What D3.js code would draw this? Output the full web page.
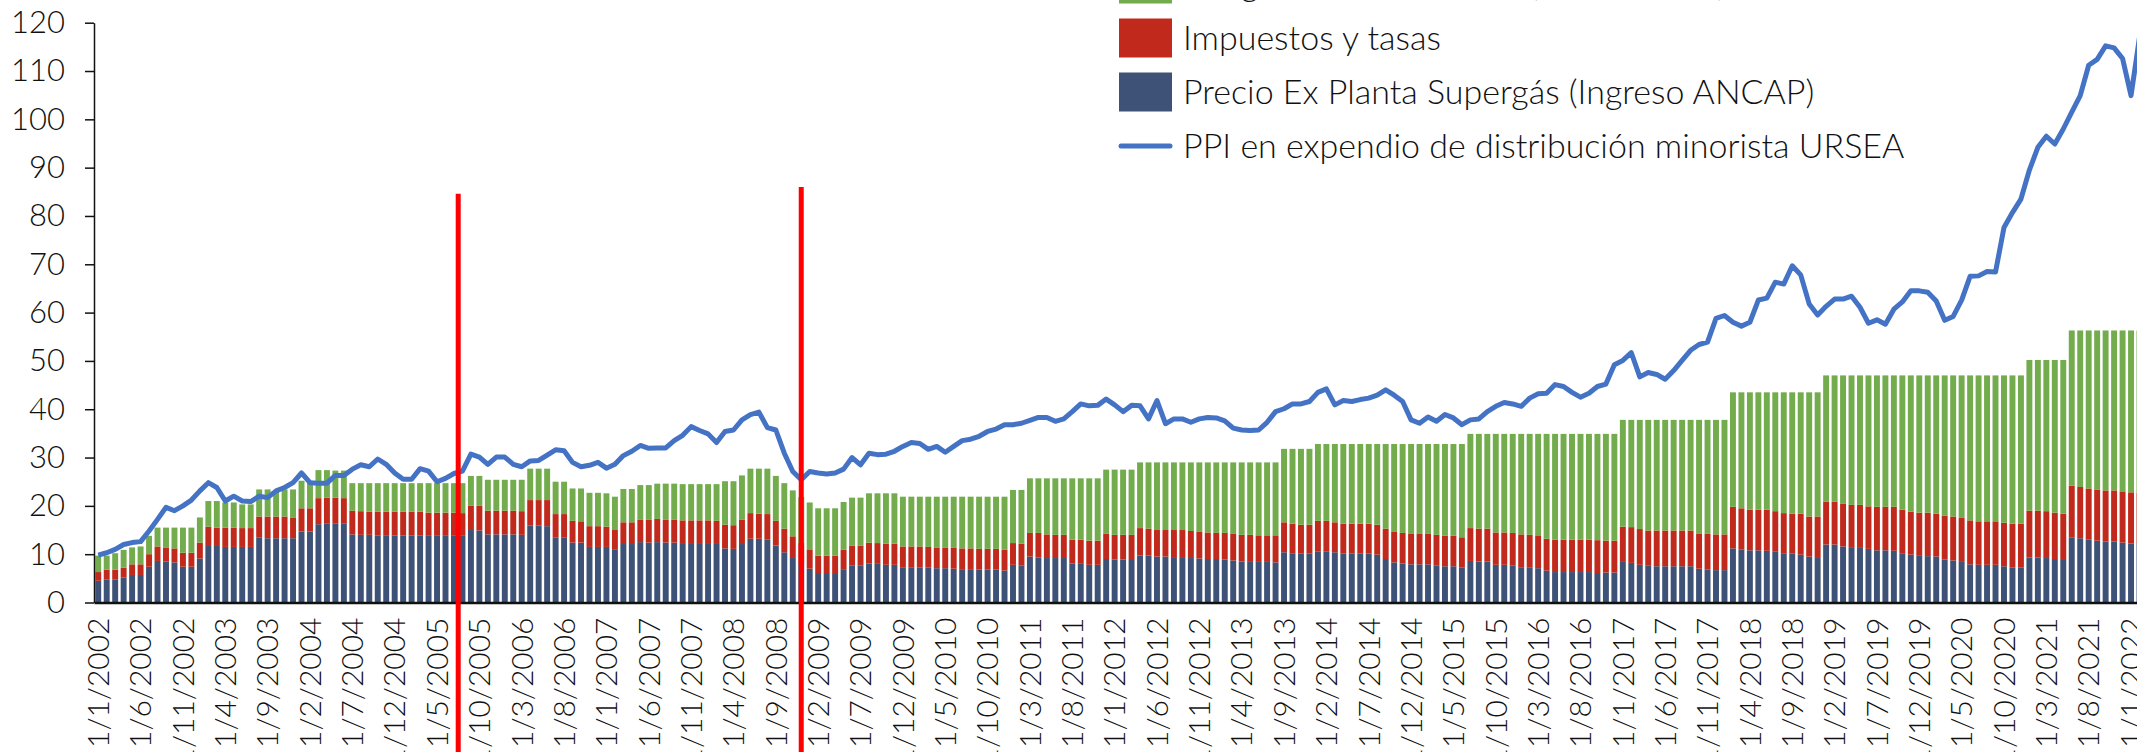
<!DOCTYPE html>
<meta charset="utf-8">
<style>
body { margin: 0; background: #fff; }
svg { display: block; }
text { font-family: Lato, "Open Sans", sans-serif; font-weight: 300; fill: #111; }
.axis path, .axis line { stroke: #111; }
</style>
<svg width="2137" height="752"></svg>
<script src="https://d3js.org/d3.v7.min.js"></script>
<script>

// monthly categories, 1/1/2002 ... 1/2/2022 (day/month/year)
var months = d3.range(242).map(function(i) {
  return "1/" + (i % 12 + 1) + "/" + (2002 + Math.floor(i / 12));
});

// Precio Ex Planta Supergás (Ingreso ANCAP)
var precio = [
  4.5,4.8,4.8,5.2,5.7,5.7,7.4,8.6,8.5,8.3,7.4,7.4,
  9.1,11.7,11.7,11.5,11.5,11.5,11.5,13.4,13.3,13.3,13.3,13.3,
  14.7,14.7,16.2,16.4,16.4,16.4,14.1,14.0,14.0,13.9,13.8,13.9,
  13.9,13.9,13.9,13.8,13.8,13.8,13.8,13.8,15.0,14.9,14.1,14.1,
  14.1,14.1,14.0,15.9,15.9,15.8,13.4,13.4,12.4,12.4,11.5,11.5,
  11.5,10.9,12.1,12.1,12.5,12.4,12.5,12.4,12.4,12.3,12.3,12.3,
  12.3,12.3,11.2,11.1,12.1,13.2,13.2,13.0,11.8,10.4,9.2,8.0,
  7.0,6.1,6.1,5.9,6.9,7.7,7.7,8.1,8.0,7.8,7.8,7.3,
  7.3,7.2,7.2,7.1,7.1,7.0,6.9,6.9,6.8,6.8,6.8,6.6,
  7.8,7.7,9.5,9.3,9.2,9.2,9.2,8.1,8.0,7.8,7.8,9.0,
  8.9,8.9,8.8,9.7,9.7,9.5,9.5,9.4,9.4,9.2,9.1,9.0,
  9.0,8.9,8.7,8.5,8.4,8.4,8.4,8.3,10.4,10.2,10.1,10.1,
  10.6,10.6,10.4,10.1,10.1,10.1,10.1,9.9,9.0,8.3,8.1,7.9,
  7.9,7.9,7.7,7.5,7.5,7.2,8.6,8.5,8.5,7.8,7.8,7.7,
  7.3,7.3,7.1,6.6,6.3,6.3,6.3,6.3,6.3,6.1,6.2,6.2,
  8.4,8.2,7.8,7.6,7.5,7.5,7.5,7.5,7.5,7.0,6.8,6.7,
  6.7,11.2,11.0,10.8,10.8,10.7,10.5,10.2,10.1,9.9,9.5,9.4,
  12.0,12.0,11.6,11.3,11.3,11.1,10.8,10.8,10.7,10.2,9.9,9.8,
  9.6,9.5,8.9,8.7,8.4,7.9,7.8,7.8,7.8,7.5,7.2,7.2,
  9.3,9.3,9.2,9.0,8.8,13.5,13.3,13.0,12.8,12.6,12.6,12.4,
  12.2,12.1
];

// Impuestos y tasas
var impuestos = [
  1.8,2.0,2.0,2.0,2.2,2.2,2.6,3.0,2.9,2.9,2.9,2.9,
  3.3,4.0,3.8,4.0,4.0,3.9,3.9,4.4,4.5,4.5,4.5,4.3,
  4.8,4.8,5.4,5.3,5.3,5.2,4.9,4.9,4.8,4.9,5.0,4.9,
  4.9,4.9,4.9,4.8,4.8,4.8,4.8,4.7,5.0,5.1,4.9,4.9,
  4.9,4.9,4.9,5.3,5.3,5.4,4.9,4.9,4.5,4.4,4.3,4.3,
  4.2,4.1,4.5,4.5,4.6,4.7,4.8,4.7,4.7,4.7,4.7,4.7,
  4.7,4.6,4.9,4.9,5.0,5.3,5.2,5.3,5.1,4.9,4.5,4.3,
  4.0,3.6,3.6,3.8,4.0,4.1,4.1,4.3,4.3,4.4,4.4,4.3,
  4.3,4.4,4.3,4.2,4.2,4.3,4.3,4.3,4.3,4.3,4.3,4.3,
  4.5,4.5,4.9,5.1,4.9,4.8,4.8,4.9,5.0,5.0,5.0,5.2,
  5.1,5.1,5.2,5.7,5.6,5.5,5.5,5.6,5.6,5.6,5.5,5.5,
  5.4,5.5,5.6,5.5,5.6,5.5,5.5,5.6,6.2,6.1,6.0,6.0,
  6.3,6.3,6.2,6.2,6.2,6.2,6.2,6.2,6.3,6.3,6.3,6.4,
  6.4,6.4,6.3,6.3,6.3,6.3,6.8,6.8,6.8,6.7,6.7,6.7,
  6.8,6.7,6.8,6.6,6.7,6.7,6.7,6.7,6.7,6.8,6.6,6.6,
  7.3,7.4,7.4,7.3,7.4,7.4,7.4,7.4,7.4,7.3,7.4,7.4,
  7.4,8.6,8.5,8.4,8.4,8.5,8.4,8.3,8.3,8.5,8.3,8.4,
  8.9,8.9,8.9,8.9,8.9,8.8,9.0,9.0,9.1,9.0,8.9,8.8,
  9.0,8.9,9.1,9.1,9.1,9.1,9.0,9.0,9.0,9.0,9.1,9.1,
  9.7,9.7,9.7,9.6,9.6,10.7,10.6,10.6,10.6,10.6,10.6,10.6,
  10.6,10.6
];

// Margen de distribución
var margen = [
  3.4,2.9,3.4,3.7,3.5,3.7,3.8,3.9,4.1,4.3,5.2,5.2,
  5.2,5.3,5.5,5.2,5.2,4.9,4.9,5.6,5.6,5.3,5.6,5.8,
  5.7,5.7,5.8,5.7,5.6,5.7,5.7,5.8,5.9,5.9,5.9,5.9,
  5.9,5.9,5.9,6.1,6.1,6.1,6.1,6.2,6.2,6.2,6.4,6.4,
  6.4,6.4,6.5,6.5,6.5,6.5,6.7,6.7,6.7,6.8,6.9,6.9,
  6.9,6.9,6.9,6.9,7.2,7.2,7.3,7.5,7.5,7.5,7.5,7.5,
  7.5,7.6,9.0,9.1,9.2,9.2,9.3,9.4,9.3,9.4,9.5,9.5,
  9.7,9.8,9.8,9.8,9.9,9.9,9.9,10.2,10.3,10.4,10.4,10.3,
  10.3,10.3,10.4,10.6,10.6,10.6,10.7,10.7,10.8,10.8,10.8,11.0,
  11.0,11.1,11.3,11.3,11.6,11.7,11.7,12.7,12.7,12.9,12.9,13.3,
  13.5,13.5,13.5,13.6,13.7,14.0,14.0,14.0,14.0,14.2,14.4,14.5,
  14.6,14.6,14.7,15.0,15.0,15.1,15.1,15.1,15.2,15.5,15.7,15.7,
  15.9,15.9,16.2,16.5,16.5,16.5,16.5,16.7,17.5,18.2,18.4,18.5,
  18.5,18.5,18.8,19.0,19.0,19.3,19.5,19.6,19.6,20.4,20.4,20.5,
  20.8,20.9,21.0,21.7,21.9,21.9,21.9,21.9,21.9,22.0,22.1,22.1,
  22.1,22.2,22.6,22.9,22.9,22.9,22.9,22.9,22.9,23.5,23.6,23.7,
  23.7,23.7,24.0,24.3,24.3,24.3,24.6,25.0,25.1,25.1,25.7,25.7,
  26.1,26.1,26.5,26.8,26.8,27.1,27.2,27.2,27.2,27.8,28.2,28.4,
  28.4,28.6,29.0,29.2,29.5,30.0,30.2,30.2,30.2,30.5,30.7,30.7,
  31.2,31.2,31.3,31.6,31.8,32.1,32.4,32.7,32.9,33.1,33.1,33.3,
  33.5,33.6
];

// PPI en expendio de distribución minorista URSEA
var ppi = [
  9.8,10.3,11.0,12.0,12.4,12.6,14.8,17.2,19.7,19.0,20.0,21.2,
  23.1,24.8,23.8,21.0,22.0,21.0,20.9,22.0,21.7,23.1,23.8,24.8,
  26.8,24.8,24.7,24.7,26.3,26.3,27.6,28.5,28.1,29.7,28.6,26.8,
  25.5,25.5,27.7,27.2,25.0,25.7,26.7,27.2,30.7,30.1,28.6,30.1,
  30.1,28.6,28.1,29.3,29.4,30.5,31.6,31.4,29.0,28.1,28.4,29.0,
  27.8,28.6,30.4,31.3,32.5,31.9,32.0,32.0,33.5,34.6,36.4,35.6,
  34.9,33.1,35.4,35.7,37.8,38.9,39.4,36.2,35.7,30.9,27.1,25.4,
  27.1,26.8,26.6,26.8,27.6,30.0,28.5,30.9,30.6,30.7,31.3,32.3,
  33.1,32.9,31.7,32.3,31.1,32.3,33.5,33.8,34.4,35.4,35.9,36.8,
  36.8,37.1,37.7,38.3,38.3,37.5,38.0,39.5,41.1,40.7,40.8,42.1,
  40.9,39.5,40.8,40.7,38.0,41.8,37.0,38.0,38.0,37.3,38.0,38.3,
  38.2,37.6,36.1,35.7,35.6,35.7,37.3,39.5,40.1,41.1,41.1,41.6,
  43.5,44.2,40.9,41.8,41.6,42.0,42.3,42.9,44.0,42.9,41.6,37.8,
  37.1,38.4,37.5,38.9,38.2,36.8,37.8,38.0,39.5,40.6,41.4,41.1,
  40.6,42.3,43.2,43.3,45.1,44.7,43.5,42.5,43.3,44.7,45.2,49.2,
  50.1,51.7,46.7,47.6,47.2,46.2,48.0,50.1,52.2,53.4,53.9,58.8,
  59.4,58.0,57.2,58.0,62.6,63.0,66.3,65.9,69.7,67.8,61.8,59.5,
  61.3,62.8,62.8,63.4,61.1,57.8,58.5,57.6,60.7,62.2,64.5,64.5,
  64.2,62.4,58.4,59.2,62.6,67.5,67.6,68.5,68.4,77.6,80.7,83.5,
  89.5,94.2,96.5,94.9,98.0,101.5,104.9,111.2,112.4,115.2,114.8,112.6,
  104.9,117.0
];

var yTicks = [0, 10, 20, 30, 40, 50, 60, 70, 80, 90, 100, 110, 120];
var xTickLabels = months.filter(function(d, i) { return i % 5 === 0; });

// vertical reference lines (category, position inside the month, height)
var markerMonths = ["1/8/2005", "1/12/2008"];
var markerPos = [0, 0.5];
var markerTops = [84.6, 86];

var seriesNames = [
  "Precio Ex Planta Supergás (Ingreso ANCAP)",
  "Impuestos y tasas",
  "Margen de distribución (envasadoras)"
];
var lineName = "PPI en expendio de distribución minorista URSEA";
var colors = { precio: "#3d5276", impuestos: "#c0291b", margen: "#72ac4c" };

var svg = d3.select("svg");

var x = d3.scaleBand()
    .domain(months)
    .range([94, 94 + 8.47 * months.length])
    .paddingInner(0.3)
    .paddingOuter(0.15);

var y = d3.scaleLinear().domain([0, 120]).range([602.5, 22.7]);

var table = months.map(function(m, i) {
  return { m: m, precio: precio[i], impuestos: impuestos[i], margen: margen[i], ppi: ppi[i] };
});

var stack = d3.stack().keys(["precio", "impuestos", "margen"])(table);

svg.append("g")
  .selectAll("g")
  .data(stack)
  .enter().append("g")
    .attr("fill", function(d) { return colors[d.key]; })
  .selectAll("rect")
  .data(function(d) { return d; })
  .enter().append("rect")
    .attr("x", function(d) { return x(d.data.m); })
    .attr("y", function(d) { return y(d[1]); })
    .attr("width", x.bandwidth())
    .attr("height", function(d) { return y(d[0]) - y(d[1]); });

svg.append("g")
    .attr("class", "axis axis--y")
    .attr("transform", "translate(94,0)")
    .call(d3.axisLeft(y).tickValues(yTicks).tickSize(9).tickSizeOuter(0).tickPadding(20))
    .call(function(g) {
      g.select(".domain").attr("stroke-width", 1.5);
      g.selectAll(".tick line").attr("stroke-width", 1.5);
      g.selectAll("text").attr("font-size", 31).attr("fill", "#111")
        .style("font-family", "Lato, sans-serif");
    });

svg.append("g")
    .attr("class", "axis axis--x")
    .attr("transform", "translate(0," + y(0) + ")")
    .call(d3.axisBottom(x).tickValues(xTickLabels).tickSize(0).tickSizeOuter(0))
    .call(function(g) {
      g.select(".domain").attr("stroke-width", 2.5);
      g.selectAll("text")
        .attr("transform", "rotate(-90)")
        .attr("text-anchor", "end")
        .attr("x", -15)
        .attr("y", 0)
        .attr("dy", "0.36em")
        .attr("font-size", 30)
        .attr("fill", "#111")
        .style("font-family", "Lato, sans-serif");
    });

var line = d3.line()
    .x(function(d) { return x(d.m) + x.bandwidth() / 2; })
    .y(function(d) { return y(d.ppi); });

svg.append("path")
    .datum(table)
    .attr("fill", "none")
    .attr("stroke", "#4472c4")
    .attr("stroke-width", 5)
    .attr("stroke-linejoin", "round")
    .attr("d", line);

var gap = x.step() - x.bandwidth();
svg.append("g")
  .selectAll("line")
  .data(markerMonths)
  .enter().append("line")
    .attr("x1", function(d, i) { return x(d) - gap / 2 + markerPos[i] * x.step(); })
    .attr("x2", function(d, i) { return x(d) - gap / 2 + markerPos[i] * x.step(); })
    .attr("y1", function(d, i) { return y(markerTops[i]); })
    .attr("y2", 752)
    .attr("stroke", "#ff0000")
    .attr("stroke-width", 5);

// legend
var legendItems = [
  { label: seriesNames[2], color: colors.margen, type: "box" },
  { label: seriesNames[1], color: colors.impuestos, type: "box" },
  { label: seriesNames[0], color: colors.precio, type: "box" },
  { label: lineName, color: "#4472c4", type: "line" }
];

var legend = svg.append("g").attr("transform", "translate(1119,-16)");
var row = legend.selectAll("g")
  .data(legendItems)
  .enter().append("g")
    .attr("transform", function(d, i) { return "translate(0," + (i * 54) + ")"; });

row.filter(function(d) { return d.type === "box"; })
  .append("rect")
    .attr("x", 0).attr("y", -19.5)
    .attr("width", 53).attr("height", 39)
    .attr("fill", function(d) { return d.color; });

row.filter(function(d) { return d.type === "line"; })
  .append("line")
    .attr("x1", 2).attr("x2", 51)
    .attr("stroke", function(d) { return d.color; })
    .attr("stroke-width", 5)
    .attr("stroke-linecap", "round");

row.append("text")
    .attr("x", 64)
    .attr("dy", "0.35em")
    .attr("font-size", 34)
    .text(function(d) { return d.label; });

</script>
